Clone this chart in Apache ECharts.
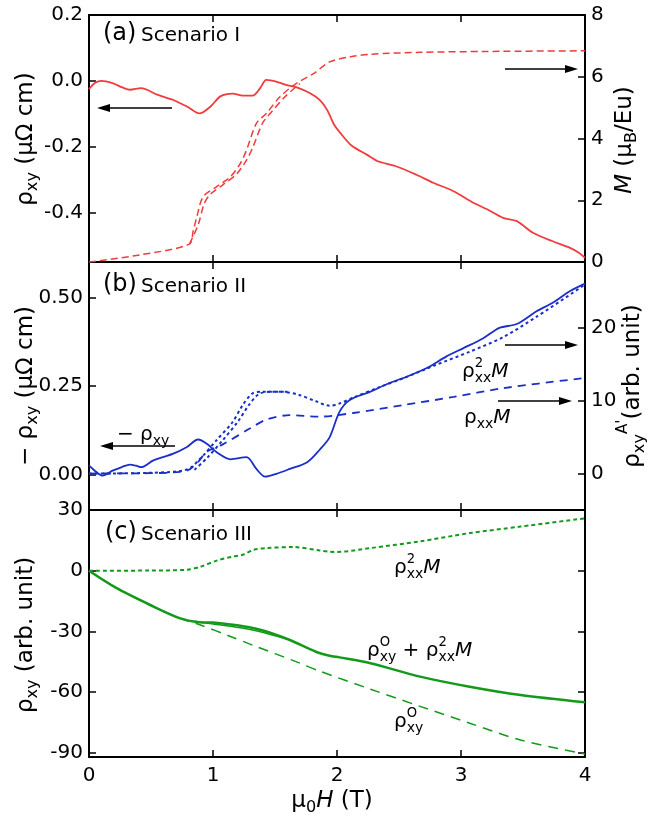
<!DOCTYPE html>
<html>
<head>
<meta charset="utf-8">
<title>Scenarios</title>
<script src="https://cdn.jsdelivr.net/npm/echarts@6/dist/echarts.min.js"></script>
<style>
  html, body { margin: 0; background: #fff; }
  #main { width: 651px; height: 823px; }
</style>
</head>
<body>
<div id="main"></div>
<script>
// ---- data (field in T) ----
// (a) rho_xy (left axis) and M (right axis)
var rhoA_H = [0, 0.05, 0.1, 0.19, 0.27, 0.33, 0.42, 0.55, 0.68, 0.79, 0.89, 0.98, 1.06, 1.16, 1.24, 1.32, 1.38, 1.43, 1.51, 1.59, 1.67, 1.78, 1.86, 1.92, 1.98, 2.05, 2.12, 2.24, 2.33, 2.48, 2.64, 2.78, 2.94, 3.1, 3.21, 3.34, 3.45, 3.58, 3.74, 3.88, 3.95, 4.0];
var rhoA = [-0.025, -0.006, 0.0, -0.007, -0.02, -0.027, -0.022, -0.042, -0.058, -0.078, -0.099, -0.078, -0.047, -0.039, -0.045, -0.045, -0.022, 0.003, -0.002, -0.012, -0.019, -0.037, -0.058, -0.088, -0.135, -0.169, -0.197, -0.224, -0.244, -0.26, -0.285, -0.31, -0.335, -0.37, -0.39, -0.416, -0.426, -0.461, -0.487, -0.507, -0.522, -0.537];
var magA_H = [0, 0.41, 0.81, 0.84, 0.87, 0.92, 1.03, 1.14, 1.22, 1.27, 1.35, 1.43, 1.54, 1.67, 1.81, 1.94, 2.1, 2.27, 2.67, 3.21, 4.0];
var magA = [0, 0.23, 0.58, 1.0, 1.47, 2.11, 2.44, 2.76, 3.19, 3.62, 4.49, 4.81, 5.35, 5.78, 6.1, 6.48, 6.64, 6.73, 6.79, 6.82, 6.84];
var magA2_H = [0.81, 0.88, 0.93, 0.98, 1.08, 1.19, 1.27, 1.32, 1.40, 1.47, 1.58, 1.7];
var magA2 = [0.58, 1.2, 1.9, 2.2, 2.5, 2.85, 3.3, 3.7, 4.5, 4.85, 5.35, 5.78];

// (b) -rho_xy (left axis), rho_xx^2 M and rho_xx M (right axis)
var rhoB_H = [0, 0.06, 0.11, 0.19, 0.27, 0.33, 0.38, 0.42, 0.52, 0.68, 0.79, 0.88, 0.95, 1.03, 1.14, 1.27, 1.35, 1.42, 1.51, 1.62, 1.76, 1.86, 1.94, 2.02, 2.1, 2.27, 2.4, 2.56, 2.72, 2.88, 3.02, 3.18, 3.31, 3.45, 3.61, 3.74, 3.88, 4.0];
var rhoB = [0.026, 0.007, -0.003, 0.011, 0.022, 0.028, 0.025, 0.021, 0.04, 0.059, 0.078, 0.099, 0.087, 0.063, 0.043, 0.049, 0.016, -0.006, 0.002, 0.016, 0.035, 0.07, 0.105, 0.177, 0.21, 0.234, 0.255, 0.276, 0.30, 0.333, 0.357, 0.385, 0.414, 0.425, 0.461, 0.485, 0.518, 0.539];
var sqB_H = [0, 0.49, 0.79, 0.9, 1.03, 1.16, 1.24, 1.32, 1.39, 1.56, 1.69, 1.83, 1.94, 2.02, 2.13, 2.35, 2.54, 2.8, 3.07, 3.34, 3.61, 4.0];
var sqB = [0, 0.1, 0.55, 2.1, 4.6, 7.1, 9.4, 11.0, 11.2, 11.2, 10.8, 9.9, 9.3, 9.6, 10.4, 11.9, 13.1, 14.9, 16.7, 18.7, 21.5, 25.9];
var sqB2_H = [0.85, 0.95, 1.08, 1.2, 1.29, 1.37, 1.46, 1.6];
var sqB2 = [0.5, 2.1, 4.6, 7.1, 9.4, 10.9, 11.2, 11.2];
var linB_H = [0, 0.49, 0.79, 0.88, 0.95, 1.08, 1.3, 1.43, 1.62, 1.86, 2.13, 2.54, 2.94, 3.34, 4.0];
var linB = [0, 0.05, 0.4, 1.6, 3.0, 4.0, 6.2, 7.4, 8.0, 7.8, 8.3, 9.4, 10.5, 11.7, 13.1];

// (c) rho_xx^2 M, rho^O_xy + rho_xx^2 M, rho^O_xy
var sqC_H = [0, 0.49, 0.79, 0.9, 1.03, 1.16, 1.24, 1.33, 1.43, 1.65, 1.86, 1.94, 2.0, 2.27, 2.67, 3.07, 3.48, 4.0];
var sqC = [0, 0.1, 0.5, 2.0, 5.0, 7.0, 7.9, 10.4, 11.2, 11.7, 10.0, 9.4, 9.3, 11.2, 14.5, 18.6, 21.8, 25.9];
var sumC_H = [0, 0.22, 0.49, 0.73, 0.89, 1.0, 1.16, 1.33, 1.43, 1.62, 1.83, 1.94, 2.02, 2.27, 2.67, 3.07, 3.48, 4.0];
var sumC = [0, -8.5, -16.8, -23.4, -25.4, -25.6, -26.7, -28.4, -30.0, -34.2, -40, -42.0, -42.8, -45.7, -52.3, -57.3, -61.4, -65];
var sumC2_H = [0.85, 1.0, 1.16, 1.3, 1.45, 1.6];
var sumC2 = [-25.0, -26.3, -27.6, -29.0, -31.2, -33.8];
var ordC_H = [0, 0.22, 0.49, 0.73, 0.9, 1.13, 1.33, 1.69, 1.86, 2.27, 2.67, 3.07, 3.48, 4.0];
var ordC = [0, -8.5, -16.8, -23.4, -26.8, -32.2, -37, -45.4, -49.6, -58.5, -67, -75.3, -83.6, -90.5];

// tick labels
var ticksAL = [-0.4, -0.2, 0, 0.2];
var ticksAR = [0, 2, 4, 6, 8];
var ticksBL = [0, 0.25, 0.5];
var ticksBR = [0, 10, 20];
var ticksC = [-90, -60, -30, 0, 30];

// ---- styling ----
var FONT = 'DejaVu Sans';
var RED = '#f03c3c', BLUE = '#1a2ec8', GREEN = '#139a1a';

function pairs(xs, ys) {
  return xs.map(function (x, i) { return [x, ys[i]]; });
}

function xAx(grid, pos, labels) {
  return {
    type: 'value', gridIndex: grid, position: pos, min: 0, max: 4, interval: 1,
    axisLine: { show: true, onZero: false, lineStyle: { color: '#000', width: 2 } },
    axisTick: { show: true, inside: true, length: 7, lineStyle: { color: '#000', width: 1.5 } },
    axisLabel: { show: labels, fontFamily: FONT, fontSize: 20, color: '#000', margin: 9 },
    splitLine: { show: false }
  };
}

function yAx(grid, pos, min, max, vals, fmt, labels) {
  return {
    type: 'value', gridIndex: grid, position: pos, min: min, max: max,
    axisLine: { show: true, onZero: false, lineStyle: { color: '#000', width: 2 } },
    axisTick: { show: true, inside: true, length: 7, customValues: vals, lineStyle: { color: '#000', width: 1.5 } },
    axisLabel: { show: labels, customValues: vals, formatter: fmt, fontFamily: FONT, fontSize: 20, color: '#000', margin: 6 },
    splitLine: { show: false }
  };
}

function line(xs, ys, xi, yi, color, width, type) {
  return {
    type: 'line', xAxisIndex: xi, yAxisIndex: yi, data: pairs(xs, ys),
    showSymbol: false, symbol: 'none', smooth: 0.3, silent: true,
    lineStyle: { color: color, width: width, type: type }
  };
}

function makeRich(fs) {
  var base = { fontFamily: FONT, fontSize: fs, verticalAlign: 'top', padding: [0.26 * fs, 0, 0, 0], fill: '#000', color: '#000' };
  function ext(o) { return Object.assign({}, base, o); }
  return {
    n: ext({}),
    i: ext({ fontStyle: 'italic' }),
    h: ext({ fill: 'transparent', color: 'transparent' }),
    s: ext({ fontSize: 0.7 * fs, padding: [0.71 * fs, 0, 0, 0] }),
    hs: ext({ fontSize: 0.7 * fs, padding: [0.71 * fs, 0, 0, 0], fill: 'transparent', color: 'transparent' }),
    p: ext({ fontSize: 0.66 * fs, padding: [0.01 * fs, 0, 0, 0] })
  };
}

// text with its main glyph centred at (cx, cy); rotated ones read bottom to top
function rtext(cx, cy, str, fs, align, rotated) {
  var off = 0.76 * fs;
  return {
    type: 'text', z: 10,
    x: rotated ? cx - off : cx,
    y: rotated ? cy : cy - off,
    rotation: rotated ? Math.PI / 2 : 0,
    style: { text: str, rich: makeRich(fs), align: align, verticalAlign: 'top', fontFamily: FONT, fontSize: fs, fill: '#000' }
  };
}

function plain(x, cy, str, fs) {
  return {
    type: 'text', z: 10, x: x, y: cy,
    style: { text: str, fontFamily: FONT, fontSize: fs, fill: '#000', align: 'left', verticalAlign: 'middle' }
  };
}

function arrow(x1, x2, y) {
  var d = x2 > x1 ? 1 : -1;
  return [
    { type: 'line', z: 10, shape: { x1: x1, y1: y, x2: x2 - d * 8, y2: y }, style: { stroke: '#000', lineWidth: 1.3 } },
    { type: 'polygon', z: 10, shape: { points: [[x2, y], [x2 - d * 13, y - 4], [x2 - d * 13, y + 4]] }, style: { fill: '#000' } }
  ];
}

var chart = echarts.init(document.getElementById('main'), null, { renderer: 'canvas' });

var graphics = [
  plain(103, 34, '(a)', 24), plain(141, 36, 'Scenario I', 20),
  plain(103, 285, '(b)', 24), plain(141, 287, 'Scenario II', 20),
  plain(105, 533, '(c)', 24), plain(141, 535, 'Scenario III', 20),

  rtext(26, 139, '{n|ρ}{s|xy}{n| (μΩ cm)}', 23, 'center', true),
  rtext(26, 386, '{n|− ρ}{s|xy}{n| (μΩ cm)}', 23, 'center', true),
  rtext(26, 635, '{n|ρ}{s|xy}{n| (arb. unit)}', 23, 'center', true),
  rtext(625, 140, '{i|M}{n| (μ}{s|B}{n|/Eu)}', 23, 'center', true),
  rtext(633, 386, '{n|ρ}{s|xy}{p|A\'}{n|(arb. unit)}', 23, 'center', true),
  rtext(332, 801, '{n|μ}{s|0}{i|H}{n| (T)}', 23, 'center', false),

  rtext(117, 435, '{n|− ρ}{s|xy}', 20, 'left', false),
  rtext(462, 372, '{n|ρ}{s|xx}{i|M}', 20, 'left', false),
  rtext(462, 372, '{h|ρ}{p|2}', 20, 'left', false),
  rtext(464, 418, '{n|ρ}{s|xx}{i|M}', 20, 'left', false),

  rtext(394, 568, '{n|ρ}{s|xx}{i|M}', 20, 'left', false),
  rtext(394, 568, '{h|ρ}{p|2}', 20, 'left', false),
  rtext(367, 651, '{n|ρ}{s|xy}{n| + ρ}{s|xx}{i|M}', 20, 'left', false),
  rtext(367, 651, '{h|ρ}{p|O}', 20, 'left', false),
  rtext(367, 651, '{h|ρ}{hs|xy}{h| + ρ}{p|2}', 20, 'left', false),
  rtext(394, 722, '{n|ρ}{s|xy}', 20, 'left', false),
  rtext(394, 722, '{h|ρ}{p|O}', 20, 'left', false)
].concat(
  arrow(172, 97, 108), arrow(505, 578, 69),
  arrow(175, 100, 446), arrow(505, 578, 345), arrow(498, 572, 401)
);

var option = {
  animation: false,
  backgroundColor: '#fff',
  grid: [
    { left: 89, right: 66, top: 15, height: 247 },
    { left: 89, right: 66, top: 262, height: 248 },
    { left: 89, right: 66, top: 510, height: 247 }
  ],
  xAxis: [
    xAx(0, 'bottom', false), xAx(0, 'top', false),
    xAx(1, 'bottom', false), xAx(1, 'top', false),
    xAx(2, 'bottom', true), xAx(2, 'top', false)
  ],
  yAxis: [
    yAx(0, 'left', -0.55, 0.2, ticksAL, function (v) { return v.toFixed(1); }, true),
    yAx(0, 'right', 0, 8, ticksAR, function (v) { return String(v); }, true),
    yAx(1, 'left', -0.1, 0.6, ticksBL, function (v) { return v.toFixed(2); }, true),
    yAx(1, 'right', -5, 29, ticksBR, function (v) { return String(v); }, true),
    yAx(2, 'left', -92, 30, ticksC, function (v) { return String(v); }, true),
    yAx(2, 'right', -92, 30, ticksC, function (v) { return String(v); }, false)
  ],
  series: [
    line(rhoA_H, rhoA, 0, 0, RED, 1.8, 'solid'),
    line(magA_H, magA, 0, 1, RED, 1.5, [7, 4]),
    line(magA2_H, magA2, 0, 1, RED, 1.5, [7, 4]),

    line(rhoB_H, rhoB, 2, 2, BLUE, 1.8, 'solid'),
    line(sqB_H, sqB, 2, 3, BLUE, 2, [3, 3]),
    line(sqB2_H, sqB2, 2, 3, BLUE, 2, [3, 3]),
    line(linB_H, linB, 2, 3, BLUE, 1.8, [8, 6]),

    line(sqC_H, sqC, 4, 4, GREEN, 2, [4, 3]),
    line(sumC_H, sumC, 4, 4, GREEN, 2.5, 'solid'),
    line(sumC2_H, sumC2, 4, 4, GREEN, 1.5, 'solid'),
    line(ordC_H, ordC, 4, 4, GREEN, 1.5, [10, 7])
  ],
  graphic: graphics
};

chart.setOption(option);
</script>
</body>
</html>
